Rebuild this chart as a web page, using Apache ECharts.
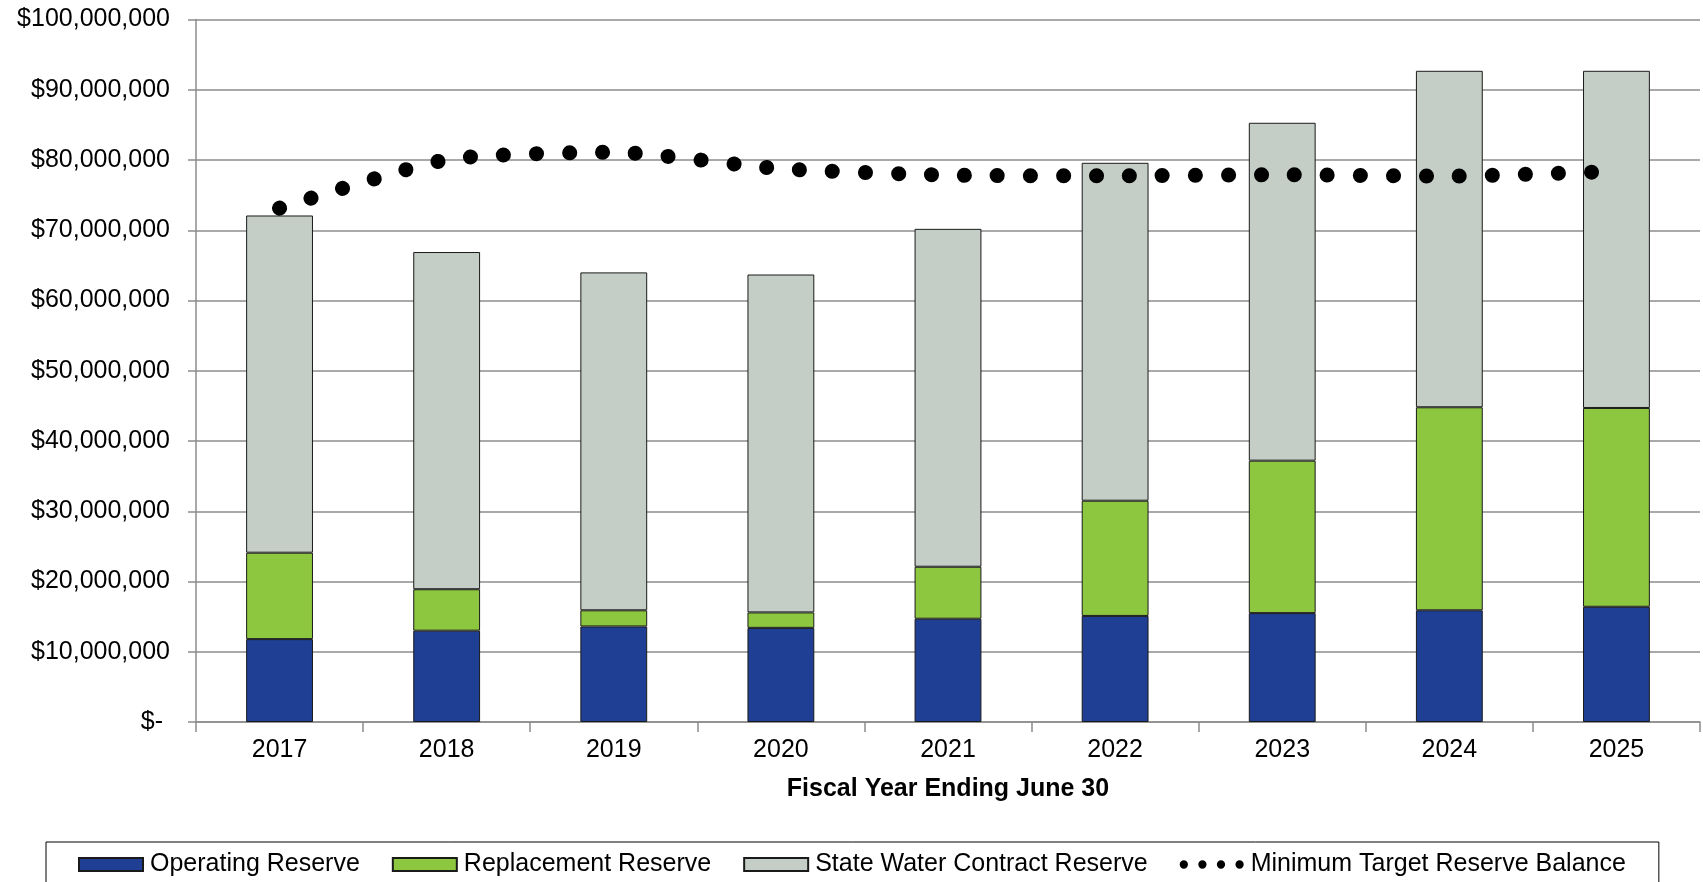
<!DOCTYPE html>
<html>
<head>
<meta charset="utf-8">
<script src="https://cdn.jsdelivr.net/npm/echarts@6/dist/echarts.min.js"></script>
<style>
  html, body { margin: 0; padding: 0; background: #fff; }
  #chart { width: 1703px; height: 882px; }
</style>
</head>
<body>
<div id="chart"></div>
<script>
(() => {
    'use strict'

    const years = ['2017', '2018', '2019', '2020', '2021', '2022', '2023', '2024', '2025']

    const operating = [11800000, 13000000, 13600000, 13400000, 14700000, 15100000, 15500000, 15900000, 16400000]
    const replacement = [12300000, 5900000, 2300000, 2200000, 7400000, 16400000, 21700000, 28900000, 28300000]
    const stateWater = [48000000, 48000000, 48100000, 48100000, 48100000, 48100000, 48100000, 47900000, 48000000]
    const minTarget = [73150000, 80050000, 81100000, 78750000, 77850000, 77750000, 77900000, 77700000, 78400000]

    const FONT = '"Liberation Sans", Arial, sans-serif'
    const GRID_COLOR = '#8c8c8c'

    const moneyFormat = value => {
        if (value === 0) return '$- '
        return '$' + value.toLocaleString('en-US')
    }

    const barSeries = (name, data, color) => ({
        name: name,
        type: 'bar',
        stack: 'reserve',
        barWidth: '40%',
        itemStyle: {
            color: color,
            borderColor: '#1a1a1a',
            borderWidth: 1
        },
        data: data
    })

    // four dots for the legend marker of the dotted line
    const dotsIcon = 'path://' + [4, 22, 40, 58]
        .map(cx => 'M' + (cx - 4) + ',4a4,4 0 1,0 8,0a4,4 0 1,0 -8,0')
        .join('')

    const chart = echarts.init(document.getElementById('chart'))

    chart.setOption({
        animation: false,
        backgroundColor: '#fff',
        textStyle: {fontFamily: FONT},
        grid: {
            left: 196,
            right: 3,
            top: 19.5,
            bottom: 160
        },
        legend: {
            left: 46,
            top: 842,
            padding: [10, 33, 40, 32],
            borderColor: '#000',
            borderWidth: 1,
            itemWidth: 64,
            itemHeight: 13,
            itemGap: 32,
            textStyle: {fontSize: 25, color: '#000', fontFamily: FONT, padding: [0, 0, 0, 2]},
            data: [
                {name: 'Operating Reserve', icon: 'rect'},
                {name: 'Replacement Reserve', icon: 'rect'},
                {name: 'State Water Contract Reserve', icon: 'rect'},
                {
                    name: 'Minimum Target Reserve Balance',
                    icon: dotsIcon,
                    itemStyle: {color: '#000'}
                }
            ]
        },
        xAxis: {
            type: 'category',
            data: years,
            name: 'Fiscal Year Ending June 30',
            nameLocation: 'middle',
            nameGap: 55,
            nameTextStyle: {fontSize: 25, fontWeight: 'bold', color: '#000', fontFamily: FONT},
            axisLine: {lineStyle: {color: GRID_COLOR, width: 1.5}},
            axisTick: {show: true, length: 10, lineStyle: {color: GRID_COLOR, width: 1.5}},
            axisLabel: {fontSize: 25, color: '#000', margin: 16, fontFamily: FONT}
        },
        yAxis: {
            type: 'value',
            min: 0,
            max: 100000000,
            interval: 10000000,
            axisLine: {show: true, lineStyle: {color: GRID_COLOR, width: 1.5}},
            axisTick: {show: true, length: 8, lineStyle: {color: GRID_COLOR, width: 1.5}},
            splitLine: {lineStyle: {color: GRID_COLOR, width: 1.5}},
            axisLabel: {
                fontSize: 25,
                color: '#000',
                margin: 26,
                fontFamily: FONT,
                formatter: moneyFormat
            }
        },
        series: [
            barSeries('Operating Reserve', operating, '#1e3f94'),
            barSeries('Replacement Reserve', replacement, '#8dc63f'),
            barSeries('State Water Contract Reserve', stateWater, '#c4cec6'),
            {
                name: 'Minimum Target Reserve Balance',
                type: 'line',
                smooth: 0.2,
                showSymbol: false,
                symbol: 'none',
                z: 5,
                itemStyle: {color: '#000'},
                lineStyle: {
                    color: '#000',
                    width: 15,
                    type: [0.1, 32.9],
                    cap: 'round'
                },
                data: minTarget
            }
        ]
    })
})()
</script>
</body>
</html>
